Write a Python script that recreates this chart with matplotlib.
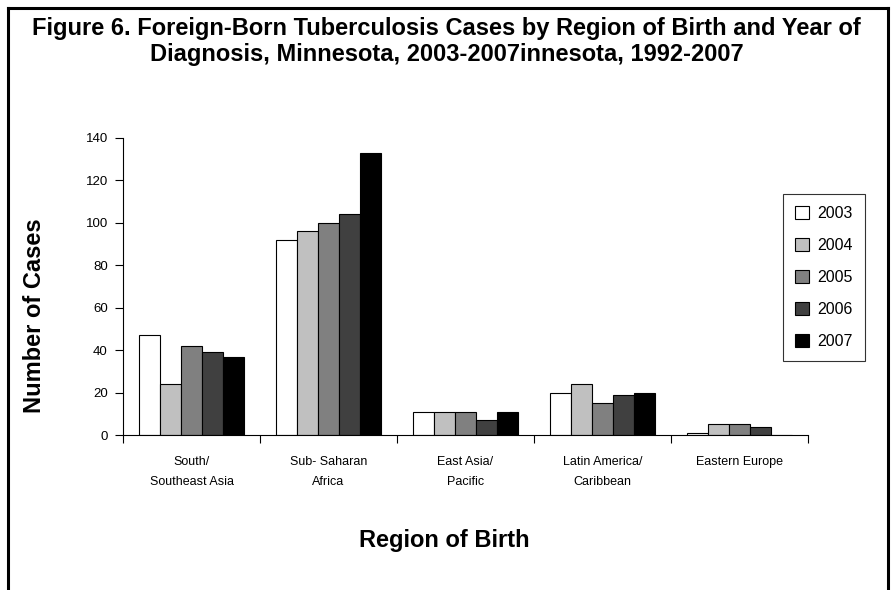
import numpy as np
import matplotlib
matplotlib.use('Agg')
import matplotlib.pyplot as plt

plt.rcParams['font.family'] = ['Liberation Sans', 'DejaVu Sans']

regions = ['South/\nSoutheast Asia', 'Sub- Saharan\nAfrica', 'East Asia/\nPacific',
           'Latin America/\nCaribbean', 'Eastern Europe']
years = ['2003', '2004', '2005', '2006', '2007']
cases_2003 = [47, 92, 11, 20, 1]
cases_2004 = [24, 96, 11, 24, 5]
cases_2005 = [42, 100, 11, 15, 5]
cases_2006 = [39, 104, 7, 19, 4]
cases_2007 = [37, 133, 11, 20, 0]
series = [cases_2003, cases_2004, cases_2005, cases_2006, cases_2007]
colours = ['#ffffff', '#c0c0c0', '#808080', '#404040', '#000000']

fig = plt.figure(figsize=(8.93, 5.90), dpi=100)
# outer frame (open at the bottom)
fl, fr, ft = 8/893, 888/893, 1-8/590
for xs, ys in [([fl, fl], [0, ft]), ([fr, fr], [0, ft]), ([fl, fr], [ft, ft])]:
    fig.add_artist(plt.Line2D(xs, ys, transform=fig.transFigure, color='black', lw=2.2))

fig.text(0.5, 1-28/590, 'Figure 6. Foreign-Born Tuberculosis Cases by Region of Birth and Year of',
         ha='center', va='center', fontsize=17, fontweight='bold')
fig.text(0.5, 1-55/590, 'Diagnosis, Minnesota, 2003-2007innesota, 1992-2007',
         ha='center', va='center', fontsize=17, fontweight='bold')

ax = fig.add_axes([123/893, 1-435/590, (808-123)/893, (435-138)/590])
x = np.arange(len(regions))
w = 0.154
for i, (vals, c, yr) in enumerate(zip(series, colours, years)):
    ax.bar(x + (i - 2) * w, vals, w, color=c, edgecolor='black', linewidth=0.8, label=yr)

ax.set_xlim(-0.5, len(regions) - 0.5)
ax.set_ylim(0, 140)
ax.set_yticks(np.arange(0, 141, 20))
ax.tick_params(axis='y', direction='out', length=6, width=0.8, labelsize=9.5, pad=5)
ax.set_xticks(np.arange(-0.5, len(regions), 1.0))
ax.set_xticklabels([])
ax.tick_params(axis='x', which='major', direction='out', length=6, width=0.8)
ax.set_xticks(x, minor=True)
ax.set_xticklabels(regions, minor=True, fontsize=9, linespacing=1.95)
ax.tick_params(axis='x', which='minor', length=0, pad=15)
for s in ['top', 'right']:
    ax.spines[s].set_visible(False)
for s in ['left', 'bottom']:
    ax.spines[s].set_linewidth(0.8)

fig.text(35/893, 1-316/590, 'Number of Cases', rotation=90, ha='center', va='center',
         fontsize=17, fontweight='bold')
fig.text(444/893, 1-540/590, 'Region of Birth', ha='center', va='center',
         fontsize=17, fontweight='bold')

leg = fig.legend(loc='upper left', bbox_to_anchor=(783/893, 1-194/590), fontsize=11.5,
                 frameon=True, fancybox=False, edgecolor='black', handlelength=0.9,
                 handleheight=0.9, labelspacing=1.05, handletextpad=0.5, borderpad=0.75,
                 borderaxespad=0)
leg.get_frame().set_linewidth(0.8)

fig.savefig('out.png', dpi=100)
